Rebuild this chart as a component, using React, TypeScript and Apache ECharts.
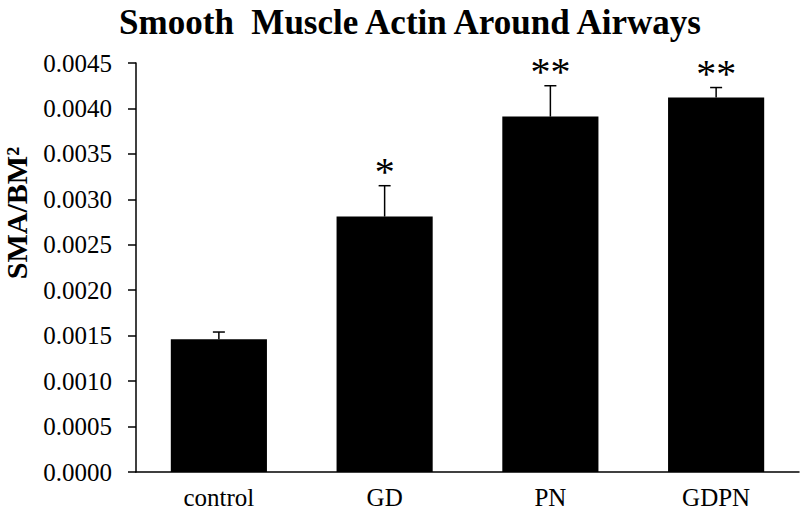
import React, { useEffect, useRef } from "react";
import * as echarts from "echarts";

const categories = ["control", "GD", "PN", "GDPN"];
const means = [0.00146, 0.00281, 0.00391, 0.00412];
const errTops = [0.00154, 0.00315, 0.00425, 0.00423];
const marks = ["", "*", "**", "**"];
const yTicks = { min: 0, max: 0.0045, interval: 0.0005 };

const FONT = "'Liberation Serif', 'Times New Roman', serif";

export default function App() {
  const ref = useRef<HTMLDivElement>(null);
  useEffect(() => {
    if (!ref.current) return;
    const chart = echarts.init(ref.current, null, { renderer: "svg" });
    chart.setOption({
      animation: false,
      backgroundColor: "#ffffff",
      title: {
        text: "Smooth  Muscle Actin Around Airways",
        left: 405,
        textAlign: "center",
        top: 0,
        textStyle: { fontFamily: FONT, fontWeight: "bold", fontSize: 35, color: "#000" },
      },
      graphic: [
        {
          type: "text",
          x: 16,
          y: 213,
          rotation: Math.PI / 2,
          style: {
            text: "SMA/BM²",
            align: "center",
            verticalAlign: "middle",
            font: `bold 30px ${FONT}`,
            fill: "#000",
          },
        },
      ],
      grid: { left: 136, right: 1, top: 63, bottom: 40 },
      xAxis: {
        type: "category",
        data: categories,
        axisLine: { lineStyle: { color: "#000", width: 1.5 } },
        axisTick: { show: false },
        axisLabel: { fontFamily: FONT, fontSize: 25, color: "#000", margin: 13 },
      },
      yAxis: {
        type: "value",
        min: yTicks.min,
        max: yTicks.max,
        interval: yTicks.interval,
        axisLine: { show: true, lineStyle: { color: "#000", width: 1.5 } },
        axisTick: { show: true, length: 8, lineStyle: { color: "#000", width: 1.5 } },
        splitLine: { show: false },
        axisLabel: {
          fontFamily: FONT,
          fontSize: 25,
          color: "#000",
          margin: 24,
          formatter: (v: number) => v.toFixed(4),
        },
      },
      series: [
        {
          type: "bar",
          data: means,
          barWidth: "58%",
          itemStyle: { color: "#000" },
        },
        {
          type: "custom",
          data: categories.map((_, i) => [i, means[i], errTops[i]]),
          z: 10,
          renderItem: (params: any, api: any) => {
            const i = api.value(0);
            const base = api.coord([i, api.value(1)]);
            const top = api.coord([i, api.value(2)]);
            const hw = 6;
            return {
              type: "group",
              children: [
                {
                  type: "line",
                  shape: { x1: base[0], y1: base[1], x2: top[0], y2: top[1] },
                  style: { stroke: "#000", lineWidth: 1.5 },
                },
                {
                  type: "line",
                  shape: { x1: top[0] - hw, y1: top[1], x2: top[0] + hw, y2: top[1] },
                  style: { stroke: "#000", lineWidth: 1.5 },
                },
                {
                  type: "text",
                  style: {
                    text: marks[params.dataIndex],
                    x: top[0],
                    y: top[1] + 6,
                    align: "center",
                    verticalAlign: "bottom",
                    font: `40px ${FONT}`,
                    fill: "#000",
                  },
                },
              ],
            };
          },
        },
      ],
    });
    return () => chart.dispose();
  }, []);
  return <div ref={ref} style={{ width: 800, height: 512, position: "absolute", left: 0, top: 0 }} />;
}
